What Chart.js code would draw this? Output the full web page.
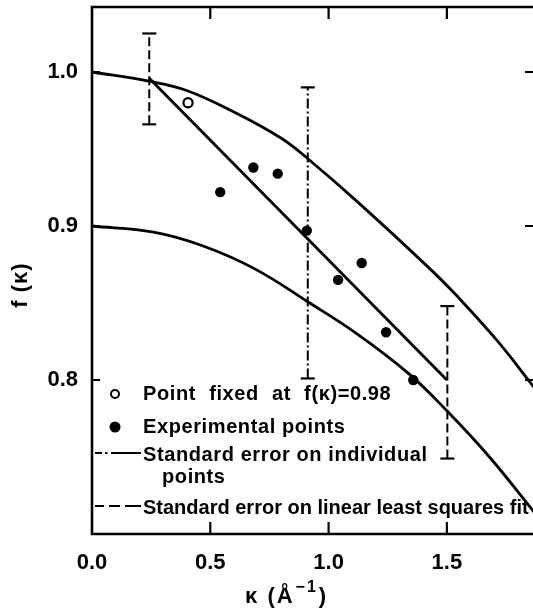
<!DOCTYPE html>
<html>
<head>
<meta charset="utf-8">
<script src="https://cdn.jsdelivr.net/npm/chart.js@4.4.1/dist/chart.umd.min.js"></script>
<style>
  html, body { margin: 0; padding: 0; background: #fff; }
  #c { display: block; }
</style>
</head>
<body>
<canvas id="c" width="533" height="610"></canvas>
<script>
// ---- data ----
const upperK = [0, 0.24, 0.40, 0.60, 0.80, 0.91, 1.12, 1.43, 1.54, 1.71, 1.87];
const upperF = [1.000, 0.994, 0.988, 0.974, 0.957, 0.944, 0.916, 0.872, 0.855, 0.826, 0.795];
const lowerK = [0, 0.26, 0.47, 0.69, 0.91, 1.12, 1.34, 1.50, 1.68, 1.87];
const lowerF = [0.900, 0.896, 0.887, 0.872, 0.851, 0.830, 0.804, 0.780, 0.750, 0.714];
const fitK = [0.242, 1.500];
const fitF = [0.996, 0.800];
const expK = [0.542, 0.682, 0.785, 0.908, 1.040, 1.140, 1.243, 1.358];
const expF = [0.922, 0.938, 0.934, 0.897, 0.865, 0.876, 0.831, 0.800];
const fixedK = [0.406];
const fixedF = [0.980];
const errFitK = [0.242, 1.502];
const errFitLow = [0.966, 0.749];
const errFitHigh = [1.025, 0.848];
const errIndK = [0.912];
const errIndLow = [0.801];
const errIndHigh = [0.990];
const xTicks = [0, 0.5, 1.0, 1.5];
const yTicks = [0.8, 0.9, 1.0];
const legendLabels = [
  'Point fixed at f(\u03BA)=0.98',
  'Experimental points',
  'Standard error on individual',
  'points',
  'Standard error on linear least squares fit'
];
const xTitle = ['\u03BA (\u00C5', '\u22121', ')'];
const yTitle = 'f (\u03BA)';

const FONT = '"Liberation Sans", Arial, sans-serif';
const pts = (ks, fs) => ks.map((k, i) => ({x: k, y: fs[i]}));

const datasets = [
  { data: pts(upperK, upperF), showLine: true, borderColor: '#000', borderWidth: 2.8, pointRadius: 0, tension: 0.4 },
  { data: pts(lowerK, lowerF), showLine: true, borderColor: '#000', borderWidth: 2.8, pointRadius: 0, tension: 0.4 },
  { data: pts(fitK, fitF), showLine: true, borderColor: '#000', borderWidth: 2.8, pointRadius: 0 },
  { data: pts(expK, expF), showLine: false, pointRadius: 5.2, pointBackgroundColor: '#000', pointBorderColor: '#000', pointBorderWidth: 0 },
  { data: pts(fixedK, fixedF), showLine: false, pointRadius: 4.6, pointBackgroundColor: '#fff', pointBorderColor: '#000', pointBorderWidth: 2.2 }
];
errFitK.forEach((k, i) => datasets.push({
  data: [{x: k, y: errFitLow[i]}, {x: k, y: errFitHigh[i]}],
  showLine: true, borderColor: '#000', borderWidth: 2, borderDash: [9, 4],
  pointStyle: 'line', pointRadius: 7, pointBorderWidth: 2.2, pointBorderColor: '#000'
}));
errIndK.forEach((k, i) => datasets.push({
  data: [{x: k, y: errIndLow[i]}, {x: k, y: errIndHigh[i]}],
  showLine: true, borderColor: '#000', borderWidth: 2, borderDash: [10, 3, 2, 3],
  pointStyle: 'line', pointRadius: 7, pointBorderWidth: 2.2, pointBorderColor: '#000'
}));

const decor = {
  id: 'decor',
  afterDatasetsDraw(chart) {
    const {ctx, chartArea: a, scales: {x, y}} = chart;
    ctx.save();
    ctx.strokeStyle = '#000';
    ctx.lineCap = 'butt';
    ctx.setLineDash([]);
    // frame (right edge lies beyond the picture)
    ctx.lineWidth = 2.6;
    ctx.beginPath();
    ctx.moveTo(a.right, a.top); ctx.lineTo(a.left, a.top);
    ctx.lineTo(a.left, a.bottom); ctx.lineTo(a.right, a.bottom);
    ctx.stroke();
    // inward tick marks
    ctx.lineWidth = 2.2;
    ctx.beginPath();
    xTicks.forEach(v => {
      if (v === 0) return;
      const px = x.getPixelForValue(v);
      ctx.moveTo(px, a.top); ctx.lineTo(px, a.top + 12);
      ctx.moveTo(px, a.bottom); ctx.lineTo(px, a.bottom - 12);
    });
    yTicks.forEach(v => {
      const py = y.getPixelForValue(v);
      ctx.moveTo(a.left, py); ctx.lineTo(a.left + 8, py);
      ctx.moveTo(a.right, py); ctx.lineTo(a.right - 8, py);
    });
    ctx.stroke();

    // legend
    ctx.fillStyle = '#000';
    ctx.font = 'bold 20px ' + FONT;
    ctx.textBaseline = 'middle';
    ctx.textAlign = 'left';
    ctx.lineWidth = 2;
    ctx.beginPath(); ctx.arc(115, 394, 4, 0, Math.PI * 2); ctx.stroke();
    ctx.letterSpacing = '0.6px';
    ctx.wordSpacing = '7px';
    ctx.fillText(legendLabels[0], 143, 394);
    ctx.wordSpacing = '0px';
    ctx.beginPath(); ctx.arc(115, 427, 5.5, 0, Math.PI * 2); ctx.fill();
    ctx.fillText(legendLabels[1], 143, 427);
    ctx.beginPath();
    ctx.moveTo(95, 453); ctx.lineTo(102, 453);
    ctx.moveTo(105, 453); ctx.lineTo(107.5, 453);
    ctx.moveTo(111, 453); ctx.lineTo(141, 453);
    ctx.stroke();
    ctx.fillText(legendLabels[2], 143, 455);
    ctx.fillText(legendLabels[3], 162, 477);
    ctx.letterSpacing = '0px';
    ctx.beginPath();
    ctx.moveTo(95, 506); ctx.lineTo(104, 506);
    ctx.moveTo(109, 506); ctx.lineTo(120, 506);
    ctx.moveTo(125, 506); ctx.lineTo(141, 506);
    ctx.stroke();
    ctx.fillText(legendLabels[4], 143, 508, 388);

    // axis titles
    ctx.letterSpacing = '2px';
    ctx.font = 'bold 22px ' + FONT;
    ctx.textBaseline = 'alphabetic';
    let tx = 245;
    ctx.fillText(xTitle[0], tx, 603);
    tx += ctx.measureText(xTitle[0]).width + 1;
    ctx.font = 'bold 16px ' + FONT;
    ctx.fillText(xTitle[1], tx, 592);
    tx += ctx.measureText(xTitle[1]).width + 1;
    ctx.font = 'bold 22px ' + FONT;
    ctx.fillText(xTitle[2], tx, 603);

    ctx.letterSpacing = '1px';
    ctx.translate(21, 285);
    ctx.rotate(-Math.PI / 2);
    ctx.textAlign = 'center';
    ctx.textBaseline = 'middle';
    ctx.fillText(yTitle, 0, 0);
    ctx.restore();
  }
};

new Chart(document.getElementById('c'), {
  type: 'scatter',
  data: { datasets },
  options: {
    responsive: false,
    animation: false,
    devicePixelRatio: 1,
    layout: { autoPadding: false, padding: { top: 7, right: 0, bottom: 0, left: 0 } },
    plugins: { legend: { display: false }, tooltip: { enabled: false } },
    scales: {
      x: {
        type: 'linear', min: 0, max: 1.864,
        afterFit(s) { s.height = 76; s.paddingLeft = 0; s.paddingRight = 0; },
        afterBuildTicks(s) { s.ticks = xTicks.map(v => ({value: v})); },
        grid: { display: true, drawOnChartArea: false, drawTicks: false },
        border: { display: false },
        ticks: {
          padding: 16, color: '#000', maxRotation: 0, autoSkip: false,
          font: { family: FONT, size: 22, weight: 'bold' },
          callback: v => Number(v).toFixed(1)
        }
      },
      y: {
        type: 'linear', min: 0.7, max: 1.0422,
        afterFit(s) { s.width = 92; s.paddingTop = 0; s.paddingBottom = 0; },
        afterBuildTicks(s) { s.ticks = yTicks.map(v => ({value: v})); },
        grid: { display: true, drawOnChartArea: false, drawTicks: false },
        border: { display: false },
        ticks: {
          padding: 14, color: '#000', autoSkip: false,
          font: { family: FONT, size: 22, weight: 'bold' },
          callback: v => Number(v).toFixed(1)
        }
      }
    }
  },
  plugins: [decor]
});
</script>
</body>
</html>
